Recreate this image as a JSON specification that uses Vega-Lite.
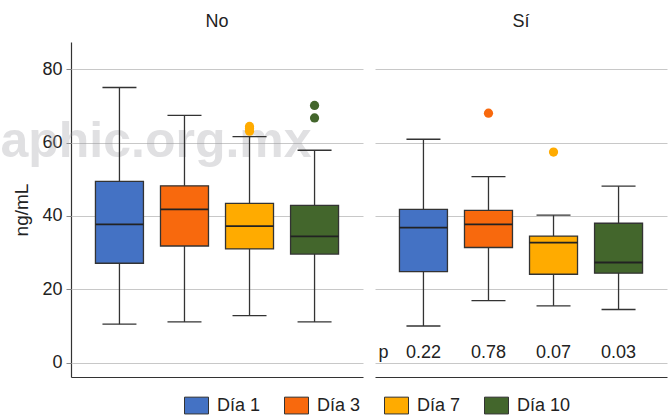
{
  "$schema": "https://vega.github.io/schema/vega-lite/v6.json",
  "padding": {"left": 0, "top": 13, "right": 3, "bottom": 0},
  "data": {
    "values": [
      {"grupo": "No", "dia": "Día 1", "lower": 10.5, "q1": 27.1, "median": 37.7, "q3": 49.4, "upper": 75.0},
      {"grupo": "No", "dia": "Día 3", "lower": 11.1, "q1": 31.8, "median": 41.8, "q3": 48.2, "upper": 67.4},
      {"grupo": "No", "dia": "Día 7", "lower": 12.8, "q1": 31.0, "median": 37.2, "q3": 43.4, "upper": 61.6},
      {"grupo": "No", "dia": "Día 10", "lower": 11.1, "q1": 29.6, "median": 34.4, "q3": 42.9, "upper": 57.9},
      {"grupo": "Sí", "dia": "Día 1", "lower": 10.0, "q1": 24.8, "median": 36.8, "q3": 41.8, "upper": 60.9},
      {"grupo": "Sí", "dia": "Día 3", "lower": 16.9, "q1": 31.4, "median": 37.7, "q3": 41.5, "upper": 50.7},
      {"grupo": "Sí", "dia": "Día 7", "lower": 15.5, "q1": 24.1, "median": 32.7, "q3": 34.5, "upper": 40.2},
      {"grupo": "Sí", "dia": "Día 10", "lower": 14.5, "q1": 24.4, "median": 27.3, "q3": 38.0, "upper": 48.1},
      {"grupo": "No", "dia": "Día 7", "outlier": 64.4},
      {"grupo": "No", "dia": "Día 7", "outlier": 63.8},
      {"grupo": "No", "dia": "Día 7", "outlier": 63.1},
      {"grupo": "No", "dia": "Día 10", "outlier": 70.1},
      {"grupo": "No", "dia": "Día 10", "outlier": 66.7},
      {"grupo": "Sí", "dia": "Día 3", "outlier": 68.0},
      {"grupo": "Sí", "dia": "Día 7", "outlier": 57.4},
      {"grupo": "Sí", "dia": "Día 1", "p": "0.22"},
      {"grupo": "Sí", "dia": "Día 3", "p": "0.78"},
      {"grupo": "Sí", "dia": "Día 7", "p": "0.07"},
      {"grupo": "Sí", "dia": "Día 10", "p": "0.03"},
      {"grupo": "Sí", "dia": "Día 1", "plabel": "p"},
      {"grupo": "No", "dia": "Día 1", "marca": "aphic.org.mx"}
    ]
  },
  "facet": {
    "column": {
      "field": "grupo", "type": "nominal", "sort": ["No", "Sí"],
      "header": {"title": null, "labelFontSize": 18, "labelFont": "Liberation Sans", "labelColor": "#222", "labelPadding": 11}
    }
  },
  "spacing": 12,
  "bounds": "flush",
  "spec": {
    "width": 292,
    "height": 335,
    "encoding": {
      "x": {
        "field": "dia", "type": "nominal", "sort": ["Día 1", "Día 3", "Día 7", "Día 10"],
        "scale": {"paddingInner": 0, "paddingOuter": 0.245},
        "axis": {"labels": false, "ticks": false, "title": null, "domainColor": "#333", "domainWidth": 1.2, "grid": false}
      }
    },
    "layer": [
      {
        "transform": [{"filter": "isValid(datum.marca)"}],
        "mark": {"type": "text", "align": "left", "baseline": "alphabetic", "dx": -119, "font": "Liberation Sans", "fontWeight": "bold", "fontSize": 50, "fill": "#9a9aa0", "opacity": 0.3},
        "encoding": {
          "y": {"datum": 56, "type": "quantitative", "scale": {"domain": [-3.9, 87.4], "nice": false, "zero": false},
            "axis": {"values": [0, 20, 40, 60, 80], "grid": true, "gridColor": "#c8c8c8", "tickColor": "#888", "tickSize": 5, "domainColor": "#333", "domainWidth": 1.2, "labelFontSize": 18, "labelPadding": 4, "title": "ng/mL", "titleFontSize": 19, "titlePadding": 10}},
          "text": {"field": "marca"}
        }
      },
      {
        "transform": [{"filter": "isValid(datum.q1)"}],
        "mark": {"type": "rule", "color": "#333", "strokeWidth": 1.3},
        "encoding": {"y": {"field": "lower", "type": "quantitative"}, "y2": {"field": "upper"}}
      },
      {
        "transform": [{"filter": "isValid(datum.q1)"}],
        "mark": {"type": "bar", "size": 48, "stroke": "#333", "strokeWidth": 1.3, "opacity": 1},
        "encoding": {
          "y": {"field": "q1", "type": "quantitative"}, "y2": {"field": "q3"},
          "color": {"field": "dia", "type": "nominal", "sort": ["Día 1", "Día 3", "Día 7", "Día 10"],
            "scale": {"domain": ["Día 1", "Día 3", "Día 7", "Día 10"], "range": ["#4472C4", "#F8690D", "#FFAB00", "#43662C"]},
            "legend": {"orient": "none", "legendX": 113, "legendY": 351, "direction": "horizontal", "title": null, "symbolType": "M-1,-0.7L1,-0.7L1,0.7L-1,0.7Z", "symbolSize": 576, "symbolStrokeColor": "#333", "symbolStrokeWidth": 1, "symbolOpacity": 1, "labelFontSize": 18, "labelFont": "Liberation Sans", "labelColor": "#222", "columnPadding": 21, "labelOffset": 8}}
        }
      },
      {
        "transform": [{"filter": "isValid(datum.q1)"}],
        "mark": {"type": "tick", "size": 48, "thickness": 1.8, "color": "#222", "opacity": 1},
        "encoding": {"y": {"field": "median", "type": "quantitative"}}
      },
      {
        "transform": [{"filter": "isValid(datum.q1)"}],
        "mark": {"type": "tick", "size": 34, "thickness": 1.3, "color": "#333", "opacity": 1},
        "encoding": {"y": {"field": "lower", "type": "quantitative"}}
      },
      {
        "transform": [{"filter": "isValid(datum.q1)"}],
        "mark": {"type": "tick", "size": 34, "thickness": 1.3, "color": "#333", "opacity": 1},
        "encoding": {"y": {"field": "upper", "type": "quantitative"}}
      },
      {
        "transform": [{"filter": "isValid(datum.outlier)"}],
        "mark": {"type": "circle", "size": 85, "opacity": 1},
        "encoding": {
          "y": {"field": "outlier", "type": "quantitative"},
          "color": {"field": "dia", "type": "nominal"}
        }
      },
      {
        "transform": [{"filter": "isValid(datum.p)"}],
        "mark": {"type": "text", "baseline": "alphabetic", "fontSize": 18, "font": "Liberation Sans", "color": "#222"},
        "encoding": {"y": {"datum": 1.3, "type": "quantitative"}, "text": {"field": "p"}}
      },
      {
        "transform": [{"filter": "isValid(datum.plabel)"}],
        "mark": {"type": "text", "baseline": "alphabetic", "dx": -40, "fontSize": 18, "font": "Liberation Sans", "color": "#222"},
        "encoding": {"y": {"datum": 1.3, "type": "quantitative"}, "text": {"field": "plabel"}}
      }
    ]
  },
  "config": {
    "font": "Liberation Sans",
    "view": {"stroke": null},
    "axis": {"labelColor": "#222", "titleColor": "#222", "labelFont": "Liberation Sans", "titleFont": "Liberation Sans", "titleFontWeight": "normal"}
  }
}
